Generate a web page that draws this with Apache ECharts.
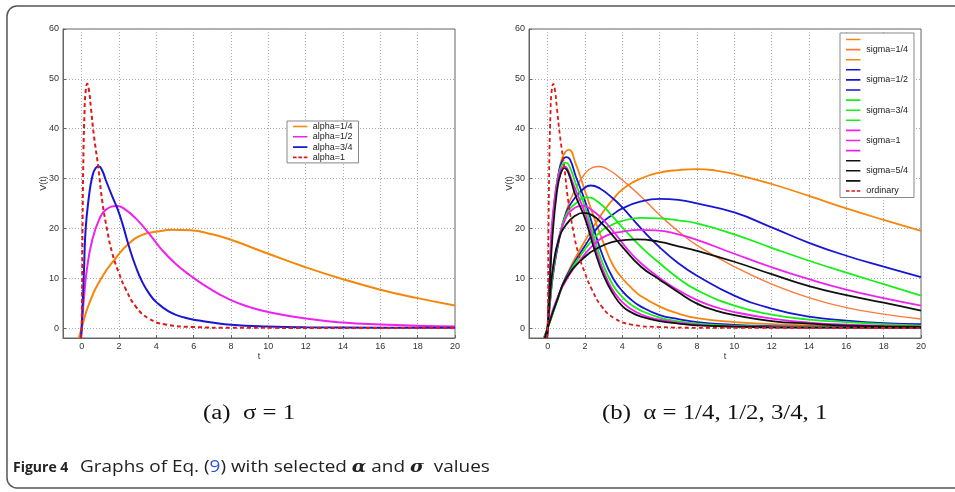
<!DOCTYPE html>
<html>
<head>
<meta charset="utf-8">
<script src="https://cdn.jsdelivr.net/npm/echarts@6/dist/echarts.min.js"></script>
<style>
  html, body { margin: 0; padding: 0; background: #fff; }
  #chart { width: 955px; height: 492px; }
</style>
</head>
<body>
<div id="chart"></div>
<script>
// ---- data: [t, V(t)] ----
// sigma = 1 (left panel, also the magenta family on the right)
const s1a14 = [[-0.15,-2],[0,0],[0.4,4.9],[1.1,10.3],[1.82,14],[2.54,17],[3.25,18.7],[3.96,19.3],[4.9,19.7],[5.8,19.6],[7,18.8],[8,17.7],[10,14.9],[12,12.2],[14,9.8],[16,7.7],[18,6.0],[20,4.5]];
const s1a12 = [[-0.06,-2],[0,0],[0.125,6.2],[0.3,12.3],[0.57,17.7],[0.93,21.7],[1.29,23.7],[1.91,24.5],[2.36,23.7],[2.9,22],[3.6,19],[4.32,15.6],[5,13.0],[5.8,10.6],[6.86,7.9],[8,5.6],[9,4.2],[10,3.2],[12,1.9],[14,1.1],[16,0.7],[18,0.45],[20,0.3]];
const s1a34 = [[-0.03,-2],[0,0],[0.125,11.6],[0.21,19.7],[0.39,26.4],[0.57,30.4],[0.75,32.1],[0.93,32.4],[1.1,31.6],[1.29,29.7],[1.64,26.4],[1.91,24],[2.18,21],[2.54,16.3],[2.9,12.3],[3.25,9.2],[3.6,7.0],[4,5.2],[4.68,3.3],[5.5,2.1],[6.3,1.5],[7,1.1],[8,0.65],[10,0.3],[12,0.15],[16,0.08],[20,0.05]];
const ordinary = [[-0.05,-2],[0,0],[0.05,22],[0.1,36],[0.15,43],[0.2,47],[0.3,49],[0.4,47.5],[0.5,44],[0.66,38.5],[0.9,32],[1.1,25.5],[1.375,19.5],[1.64,15],[2,11],[2.36,7.8],[2.9,4.3],[3.6,1.9],[4.5,0.7],[6,0.2],[8,0.05],[20,0]];

// sigma = 1/4
const s14a14 = [[-0.2,-2],[0,0],[0.5,5.5],[1,10.5],[2,17.5],[2.82,22.5],[3.5,25.8],[4,27.8],[5,30],[6,31.2],[7,31.7],[8,31.9],[9,31.6],[10,30.9],[12,28.9],[14,26.5],[16,24],[18,21.7],[20,19.5]];
const s14a12 = [[-0.08,-2],[0,0],[0.15,6],[0.3,11],[0.6,17.5],[1,23.6],[1.5,28],[2,31],[2.4,32.2],[2.75,32.4],[3.2,31.9],[3.5,31.2],[4,29.7],[5,26.4],[6,22.7],[7,19.4],[8,16.6],[10,12.3],[12,8.8],[14,6.1],[16,4.1],[18,2.8],[20,1.8]];
const s14a34 = [[-0.03,-2],[0,0],[0.125,10.5],[0.21,17.5],[0.39,25.5],[0.57,30.5],[0.75,33.8],[0.95,35.3],[1.13,35.8],[1.5,33],[2,27.5],[2.5,22],[3,17],[3.5,12.6],[4,10],[4.5,8],[5,6.4],[6,4.3],[7,2.9],[8,2.0],[10,1.2],[12,0.8],[16,0.45],[20,0.3]];

// sigma = 1/2
const s12a14 = [[-0.2,-2],[0,0],[0.5,5.5],[1,10.3],[2,16.5],[2.82,20.8],[3.5,22.8],[4,24],[5,25.4],[6,25.9],[7,25.7],[8,25],[10,23.2],[12,20.2],[14,17.1],[16,14.5],[18,12.3],[20,10.2]];
const s12a12 = [[-0.08,-2],[0,0],[0.15,6],[0.3,11],[0.6,17.5],[1,23.2],[1.5,26.3],[2,28.2],[2.3,28.6],[2.8,28],[3.5,26],[4,24.2],[5,20],[6,16.2],[7,13],[8,10.5],[10,6.5],[12,3.9],[14,2.3],[16,1.5],[18,1.0],[20,0.8]];
const s12a34 = [[-0.03,-2],[0,0],[0.125,11],[0.21,18.5],[0.39,26],[0.57,30.6],[0.75,33.3],[1.0,34.3],[1.2,33.8],[1.5,30.5],[2,25.5],[2.5,19.5],[3,14],[3.5,10],[4,7.4],[4.5,5.6],[5,4.3],[6,2.6],[7,1.8],[8,1.2],[10,0.65],[12,0.4],[16,0.25],[20,0.2]];

// sigma = 3/4
const s34a14 = [[-0.2,-2],[0,0],[0.5,5.3],[1,10],[2,15.8],[2.82,19.3],[3.5,20.8],[4,21.5],[5,22.1],[6,22],[7,21.6],[8,21],[10,18.8],[12,16.1],[14,13.5],[16,11.1],[18,8.8],[20,6.5]];
const s34a12 = [[-0.07,-2],[0,0],[0.15,6.2],[0.3,11.5],[0.6,18],[1,22.8],[1.5,25],[2.1,26.2],[2.8,25],[3.5,22.3],[4,20.2],[5,16.3],[6,13],[7,10],[8,7.6],[10,4.5],[12,2.7],[14,1.7],[16,1.2],[18,0.8],[20,0.5]];
const s34a34 = [[-0.03,-2],[0,0],[0.125,11.3],[0.21,19],[0.39,26.2],[0.57,30.5],[0.75,32.6],[0.96,33.2],[1.15,32.6],[1.5,29],[2,24.3],[2.5,18],[3,12.5],[3.5,8.6],[4,6.2],[4.5,4.6],[5,3.5],[6,2.1],[7,1.35],[8,0.9],[10,0.45],[12,0.25],[16,0.15],[20,0.1]];

// sigma = 5/4
const s54a14 = [[-0.15,-2],[0,0],[0.5,5.5],[1,10],[2,14.3],[2.82,16.3],[3.5,17.3],[4,17.6],[4.8,17.8],[6,17.3],[7,16.4],[8,15.5],[10,13.3],[12,10.8],[14,8.4],[16,6.6],[18,5.1],[20,3.5]];
const s54a12 = [[-0.06,-2],[0,0],[0.125,6.5],[0.3,12.5],[0.6,17.8],[1,20.8],[1.5,22.6],[1.9,23.1],[2.4,22.6],[2.9,21],[3.5,18.5],[4,16.3],[5,12.3],[6,9.7],[7,7.2],[8,4.9],[9,3.5],[10,2.6],[12,1.4],[14,0.9],[16,0.5],[18,0.35],[20,0.25]];
const s54a34 = [[-0.03,-2],[0,0],[0.1,8],[0.25,18],[0.5,27.5],[0.7,31],[0.9,32.1],[1.1,31.2],[1.5,26.5],[2,22],[2.5,15.8],[3,10.5],[3.5,6.9],[4,4.4],[4.5,3.1],[5,2.3],[6,1.4],[7,0.9],[8,0.55],[10,0.3],[12,0.15],[16,0.08],[20,0.05]];

const leftNames = ['alpha=1/4', 'alpha=1/2', 'alpha=3/4', 'alpha=1'];
const sigmaLabels = ['sigma=1/4', 'sigma=1/2', 'sigma=3/4', 'sigma=1', 'sigma=5/4'];
const xTickRange = [-1, 20];
const yTickRange = [-2, 60];

const C = {
  orange: '#f5860a', lightOrange: '#fb7a3a', magenta: '#ee22ee',
  blue: '#1616d4', green: '#18ee18', black: '#111111', red: '#dd1a1a'
};

// thin line icons for the legends (corner dots fix the bounding box)
const solidIcon = 'path://M0,0h.01v.01h-.01z M0,4.1h16v1.8h-16z M16,10h.01v.01h-.01z';
const dashIcon = 'path://M0,0h.01v.01h-.01z M0,4.1h4v1.8h-4z M6,4.1h4v1.8h-4z M12,4.1h4v1.8h-4z M16,10h.01v.01h-.01z';

function line(name, data, color, grid, width, dashed) {
  return {
    name: name, type: 'line', data: data,
    xAxisIndex: grid, yAxisIndex: grid,
    symbol: 'none', smooth: 0.5, clip: true,
    lineStyle: { color: color, width: width || 1.8, type: dashed ? [4, 3] : 'solid' },
    itemStyle: { color: color },
    emphasis: { disabled: true }
  };
}

const series = [
  line(leftNames[0], s1a14, C.orange, 0, 2),
  line(leftNames[1], s1a12, C.magenta, 0, 2),
  line(leftNames[2], s1a34, C.blue, 0, 2),
  line(leftNames[3], ordinary, C.red, 0, 2, true)
];

const rightFamilies = [
  [s14a34, s14a12, s14a14, C.orange, C.lightOrange],
  [s12a34, s12a12, s12a14, C.blue, C.blue],
  [s34a34, s34a12, s34a14, C.green, C.green],
  [s1a34, s1a12, s1a14, C.magenta, C.magenta],
  [s54a34, s54a12, s54a14, C.black, C.black]
];
const rightNames = [];
rightFamilies.forEach(function (f, i) {
  const lab = sigmaLabels[i];
  const names = [lab + '#a', lab, lab + '#c'];
  series.push(line(names[0], f[0], f[3], 1, 1.8));
  series.push(line(names[1], f[1], f[4], 1, f[4] === C.lightOrange ? 1.4 : 1.8));
  series.push(line(names[2], f[2], f[3], 1, 1.8));
  rightNames.push(names[0], names[1], names[2]);
});
series.push(line('ordinary', ordinary, C.red, 1, 1.8, true));
rightNames.push('ordinary');

function legendData(names) {
  return names.map(function (n) {
    return { name: n, icon: (n === 'ordinary' || n === 'alpha=1') ? dashIcon : solidIcon };
  });
}

const labelFont = { fontFamily: 'Liberation Sans, Arial, sans-serif', fontSize: 9, color: '#333' };

function xAxis(grid) {
  return {
    type: 'value', gridIndex: grid, min: xTickRange[0], max: xTickRange[1], splitNumber: 10,
    name: 't', nameLocation: 'middle', nameGap: 14, nameMoveOverlap: false,
    nameTextStyle: labelFont,
    axisLine: { show: true, onZero: false, lineStyle: { color: '#666', width: 1 } },
    axisTick: { show: true, inside: true, length: 3, lineStyle: { color: '#666' } },
    axisLabel: Object.assign({ margin: 4, showMinLabel: false }, labelFont),
    splitLine: { show: true, lineStyle: { color: '#aaa', type: [1, 2], width: 1 } }
  };
}
function yAxis(grid) {
  return {
    type: 'value', gridIndex: grid, min: yTickRange[0], max: yTickRange[1],
    name: 'V(t)', nameLocation: 'middle', nameGap: 15, nameRotate: 90, nameMoveOverlap: false,
    nameTextStyle: labelFont,
    axisLine: { show: true, onZero: false, lineStyle: { color: '#666', width: 1 } },
    axisTick: { show: true, inside: true, length: 3, lineStyle: { color: '#666' } },
    axisLabel: Object.assign({ margin: 4, showMinLabel: false }, labelFont),
    splitLine: { show: true, lineStyle: { color: '#aaa', type: [1, 2], width: 1 } }
  };
}

const legendText = { fontFamily: 'Liberation Sans, Arial, sans-serif', fontSize: 9, color: '#222' };

const option = {
  animation: false,
  backgroundColor: '#fff',
  grid: [
    { left: 63, top: 29, width: 392, height: 309, show: true, borderColor: '#666', borderWidth: 1, backgroundColor: '#fff' },
    { left: 529, top: 29, width: 392, height: 309, show: true, borderColor: '#666', borderWidth: 1, backgroundColor: '#fff' }
  ],
  xAxis: [xAxis(0), xAxis(1)],
  yAxis: [yAxis(0), yAxis(1)],
  legend: [
    {
      data: legendData(leftNames), orient: 'vertical', left: 287, top: 121,
      padding: [1, 6, 1, 6], itemGap: 1.3, itemWidth: 15, itemHeight: 9,
      backgroundColor: '#fff', borderColor: '#888', borderWidth: 1, borderRadius: 0,
      textStyle: legendText, selectedMode: false
    },
    {
      data: legendData(rightNames), orient: 'vertical', left: 840, top: 33,
      padding: [2, 6, 2, 6], itemGap: 1.1, itemWidth: 16, itemHeight: 9,
      backgroundColor: '#fff', borderColor: '#888', borderWidth: 1, borderRadius: 0,
      textStyle: legendText, selectedMode: false,
      formatter: function (n) { return n.indexOf('#') >= 0 ? ' ' : n; }
    }
  ],
  series: series,
  graphic: [
    {
      type: 'rect', silent: true, z: -10,
      shape: { x: 7, y: 6, width: 1010, height: 482, r: 10 },
      style: { fill: 'none', stroke: '#555', lineWidth: 1.5 }
    },
    {
      type: 'text', left: 203, top: 404, originX: 0, scaleX: 1.24,
      style: { text: '(a)  σ = 1', font: '20px "Liberation Serif", "DejaVu Serif", serif', fill: '#111' }
    },
    {
      type: 'text', left: 602, top: 404, originX: 0, scaleX: 1.24,
      style: { text: '(b)  α = 1/4, 1/2, 3/4, 1', font: '20px "Liberation Serif", "DejaVu Serif", serif', fill: '#111' }
    },
    {
      type: 'text', left: 13, top: 461,
      style: { text: 'Figure 4', font: 'bold 14px "Open Sans", "Noto Sans", sans-serif', fill: '#222' }
    },
    {
      type: 'text', left: 80, top: 459, originX: 0, scaleX: 1.115,
      style: {
        text: 'Graphs of Eq. ({l|9}) with selected {g|α} and {g|σ}  values',
        font: '17px "Open Sans", "Noto Sans", sans-serif', fill: '#222',
        rich: {
          l: { fontSize: 17, fontFamily: 'Open Sans', fill: '#2f55d4' },
          g: { fontSize: 17, fontWeight: 'bold', fontStyle: 'italic', fontFamily: 'DejaVu Serif', fill: '#222' }
        }
      }
    }
  ]
};

const chart = echarts.init(document.getElementById('chart'), null, { renderer: 'canvas' });
chart.setOption(option);
</script>
</body>
</html>
